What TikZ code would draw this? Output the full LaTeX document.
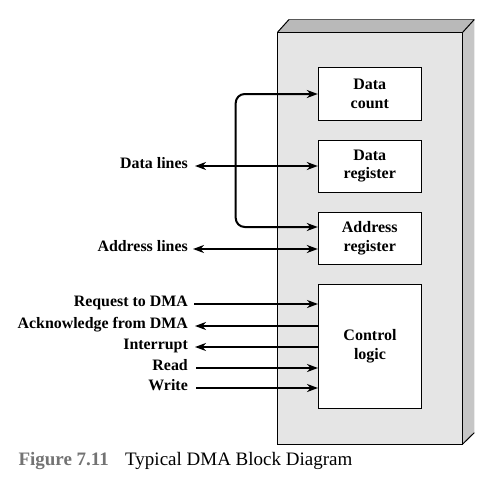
\documentclass[tikz,border=0pt]{standalone}
\usepackage{fontspec}
\setmainfont{Liberation Serif}
\usetikzlibrary{arrows.meta,calc}
\begin{document}
\begin{tikzpicture}[x=1pt,y=-1pt,
  unitbox/.style={draw,fill=white,line width=1pt,minimum width=103pt,inner sep=0pt,align=center,
    font=\fontsize{16}{18.7}\selectfont\bfseries},
  sig/.style={anchor=mid east,inner sep=0pt,font=\fontsize{15.9}{18.5}\selectfont\bfseries},
  wire/.style={line width=2pt,-{Stealth[length=11pt,width=8pt,inset=3.5pt]}},
  bwire/.style={line width=2pt,{Stealth[length=11pt,width=8pt,inset=3.5pt]}-{Stealth[length=11pt,width=8pt,inset=3.5pt]}},
  capfont/.style={anchor=base west,inner sep=0pt,font=\fontsize{19}{22}\selectfont}
]
\useasboundingbox (0,0) rectangle (503,487);
% 3D cabinet
\fill[gray!55] (277.5,32.3) -- (289,19.5) -- (474.3,19.5) -- (462.7,32.3) -- cycle;
\fill[gray!45] (462.7,32.3) -- (474.3,19.5) -- (474.3,432.7) -- (462.7,444) -- cycle;
\fill[gray!20] (277.5,32.3) rectangle (462.7,444);
\draw[line width=0.8pt,gray!70!black] (289,19.5) -- (474.3,19.5);
\draw[line width=1pt] (277.5,32.3) -- (289,19.5);
\draw[line width=1pt] (462.7,32.3) -- (474.3,19.5);
\draw[line width=1pt] (462.7,444) -- (474.3,432.7);
\draw[line width=1pt] (277.5,32.3) rectangle (462.7,444);
% inner boxes
\node[unitbox,minimum height=52pt] (dc) at (369.8,94) {Data\\count};
\node[unitbox,minimum height=52pt] (dr) at (369.8,166) {Data\\register};
\node[unitbox,minimum height=52pt] (ar) at (369.8,238) {Address\\register};
\node[unitbox,minimum height=124pt] (cl) at (370,346.3) {Control\\logic};
% labels
\node[sig] (dl) at (188,166) {Data lines};
\node[sig] (al) at (188,249) {Address lines};
\node[sig] (rq) at (188,304) {Request to DMA};
\node[sig] (ak) at (188,326) {Acknowledge from DMA};
\node[sig] (ir) at (188,347) {Interrupt};
\node[sig] (rd) at (188,368) {Read};
\node[sig] (wr) at (188,388) {Write};
% loop between data count and address register
\coordinate (lt) at (235.7,94);
\coordinate (lb) at ($(ar.west)+(0,-11)$);
\draw[bwire,rounded corners=9pt] (dc.west) -- (lt) -- (lt |- lb) -- (lb);
% data / address lines
\draw[bwire] ([xshift=7pt]dl.mid east) -- (dl.mid east -| dr.west);
\draw[bwire] ([xshift=5pt]al.mid east) -- (al.mid east -| ar.west);
% control lines
\draw[wire] ([xshift=6pt]rq.mid east) -- (rq.mid east -| cl.west);
\draw[wire] (ak.mid east -| cl.west) -- ([xshift=7pt]ak.mid east);
\draw[wire] (ir.mid east -| cl.west) -- ([xshift=7pt]ir.mid east);
\draw[wire] ([xshift=8pt]rd.mid east) -- (rd.mid east -| cl.west);
\draw[wire] ([xshift=8pt]wr.mid east) -- (wr.mid east -| cl.west);
% caption
\node[capfont,text=gray!90!black,font=\fontsize{19}{22}\selectfont\bfseries] (fig) at (18.3,465) {Figure 7.11};
\node[capfont] (cap) at (125,465) {Typical DMA Block Diagram};
\end{tikzpicture}
\end{document}
